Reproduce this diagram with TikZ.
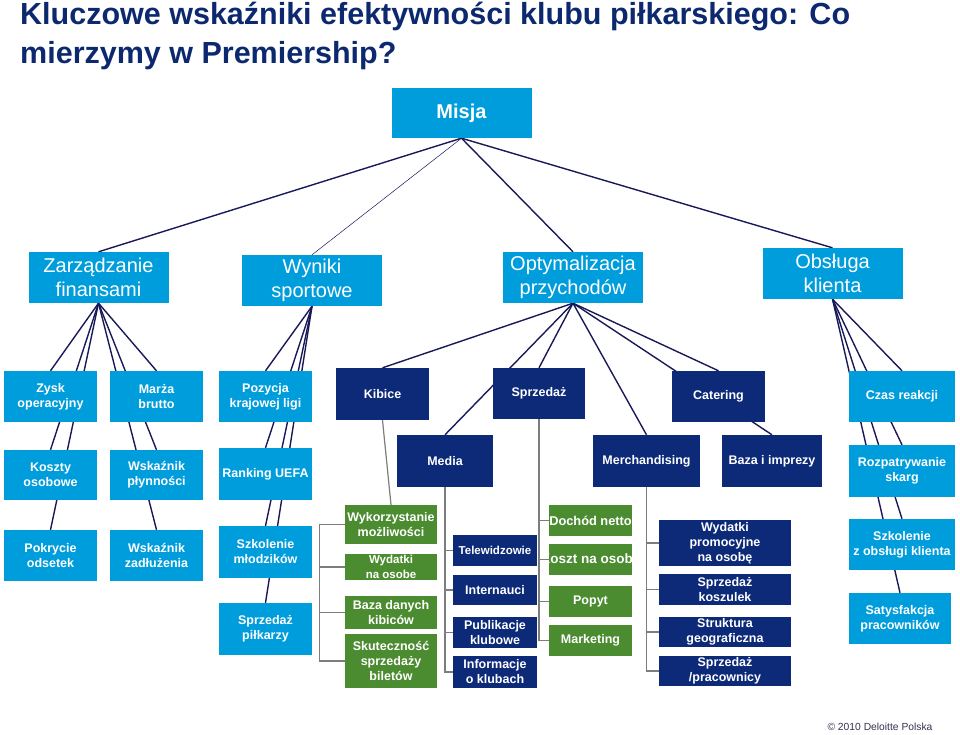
\documentclass[tikz,border=0pt]{standalone}
\usepackage{fontspec}
\setmainfont{Liberation Sans}
\usetikzlibrary{backgrounds}
\definecolor{jasny}{RGB}{0,157,220}
\definecolor{granat}{RGB}{12,42,120}
\definecolor{zielony}{RGB}{76,140,48}
\definecolor{tytul}{RGB}{12,40,110}
\definecolor{linia}{RGB}{25,25,90}
\definecolor{szary}{RGB}{125,125,125}
\definecolor{stopka}{RGB}{50,50,80}
\tikzset{
  wym/.style 2 args={minimum width=#1, minimum height=#2},
  blok/.style={inner sep=0pt, align=center, text=white, font=\bfseries\fontsize{12.5}{15}\selectfont},
  duzy/.style={blok, fill=jasny, wym={140}{51}, font=\fontsize{20}{24}\selectfont},
  jb/.style={blok, fill=jasny},
  gb/.style={blok, fill=granat},
  zb/.style={blok, fill=zielony},
  wachlarz/.style={draw=linia, line width=1.4pt},
  drzewo/.style={draw=szary, line width=1.2pt}
}
\begin{document}
\begin{tikzpicture}[x=1pt, y=-1pt]
  \useasboundingbox (0,0) rectangle (960,735);
  % tytul
  \node[anchor=base west, inner sep=0pt, text=tytul, font=\bfseries\fontsize{30.5}{40}\selectfont] (tyt1) at (20,25) {Kluczowe wskaźniki efektywności klubu piłkarskiego: Co};
  \node[anchor=base west, inner sep=0pt, text=tytul, font=\bfseries\fontsize{30.5}{40}\selectfont] (tyt2) at (20,64) {mierzymy w Premiership?};

  \node[blok, fill=jasny, wym={140}{50}, font=\bfseries\fontsize{20}{24}\selectfont] (misja) at (461.5,113) {Misja};

  % poziom 2
  \node[duzy] (zarz) at (98.5,277.5) {Zarządzanie\\finansami};
  \node[duzy] (wyniki) at (312,280.5) {Wyniki\\sportowe};
  \node[duzy] (optym) at (573,277.5) {Optymalizacja\\przychodów};
  \node[duzy] (obsl) at (832.5,273.5) {Obsługa\\klienta};

  % poziom 3
  \node[jb, wym={93}{51}] (zysk) at (50.5,396.5) {Zysk\\operacyjny};
  \node[jb, wym={93}{51}] (marza) at (156.5,396.5) {Marża\\brutto};
  \node[jb, wym={93}{51}] (pozycja) at (265.5,396.5) {Pozycja\\krajowej ligi};
  \node[gb, wym={93}{52}] (kibice) at (382.5,394) {Kibice};
  \node[gb, wym={92}{51}] (sprzedaz) at (539,393.5) {Sprzedaż};
  \node[gb, wym={93}{51}] (catering) at (718.5,396.5) {Catering};
  \node[jb, wym={106}{51}] (czas) at (902,396.5) {Czas reakcji};

  % poziom 4
  \node[jb, wym={93}{50}] (koszty) at (50.5,475) {Koszty\\osobowe};
  \node[jb, wym={93}{50}] (plyn) at (156.5,475) {Wskaźnik\\płynności};
  \node[jb, wym={93}{52}] (ranking) at (265.5,474) {Ranking UEFA};
  \node[gb, wym={96}{52}] (media) at (445,461) {Media};
  \node[gb, wym={107}{52}] (merch) at (646.5,461) {Merchandising};
  \node[gb, wym={100}{52}] (baza) at (772,461) {Baza i imprezy};
  \node[jb, wym={106}{52}] (rozp) at (902,471) {Rozpatrywanie\\skarg};

  % poziom 5
  \node[jb, wym={93}{51}] (pokrycie) at (50.5,555.5) {Pokrycie\\odsetek};
  \node[jb, wym={93}{51}] (zadl) at (156.5,555.5) {Wskaźnik\\zadłużenia};
  \node[jb, wym={93}{52}] (szkol) at (265.5,552) {Szkolenie\\młodzików};
  \node[jb, wym={93}{52}] (pilk) at (265.5,629) {Sprzedaż\\piłkarzy};
  \node[jb, wym={106}{51}] (szkobs) at (902,544.5) {Szkolenie\\z obsługi klienta};
  \node[jb, wym={102}{51}] (satys) at (900,618.5) {Satysfakcja\\pracowników};

  % kibice
  \node[zb, wym={92}{39}] (wyk) at (391,524.5) {Wykorzystanie\\możliwości};
  \node[zb, wym={92}{26}, font=\bfseries\fontsize{11.5}{15}\selectfont] (wyd) at (391,567) {Wydatki\\na osobe};
  \node[zb, wym={92}{33}] (bazad) at (391,612.5) {Baza danych\\kibiców};
  \node[zb, wym={92}{54}] (skut) at (391,661) {Skuteczność\\sprzedaży\\biletów};

  % media
  \node[gb, wym={84}{31}, font=\bfseries\fontsize{11.5}{15}\selectfont] (tele) at (495,550.5) {Telewidzowie};
  \node[gb, wym={84}{30}] (inter) at (495,590) {Internauci};
  \node[gb, wym={84}{31}] (publ) at (495,632.5) {Publikacje\\klubowe};
  \node[gb, wym={84}{32}] (info) at (495,672) {Informacje\\o klubach};

  % sprzedaz
  \node[zb, wym={83}{31}, font=\bfseries\fontsize{12.8}{15}\selectfont] (doch) at (590.5,520.5) {\makebox[0pt]{Dochód netto}};
  \node[zb, wym={83}{31}, font=\bfseries\fontsize{13.5}{15}\selectfont] (koszt) at (590.5,559.5) {\makebox[0pt]{Koszt na osobę}};
  \node[zb, wym={83}{31}] (popyt) at (590.5,601.5) {Popyt};
  \node[zb, wym={83}{31}] (market) at (590.5,640.5) {Marketing};

  % merchandising
  \node[gb, wym={132}{46}] (wydprom) at (725,543) {Wydatki\\promocyjne\\na osobę};
  \node[gb, wym={132}{31}] (koszul) at (725,589.5) {Sprzedaż\\koszulek};
  \node[gb, wym={132}{30}] (strukt) at (725,632) {Struktura\\geograficzna};
  \node[gb, wym={132}{30}] (prac) at (725,671) {Sprzedaż\\/pracownicy};

  \node[inner sep=0pt, text=stopka, font=\fontsize{10.3}{12}\selectfont] (stopka) at (880,727) {© 2010 Deloitte Polska};

  \begin{scope}[on background layer]
    \draw[wachlarz] (misja.south) -- (zarz.north);
    \draw[wachlarz, line width=0.5pt] (misja.south) -- (wyniki.north);
    \draw[wachlarz] (misja.south) -- (optym.north);
    \draw[wachlarz] (misja.south) -- (obsl.north);

    \draw[wachlarz] (zarz.south) -- (zysk.north);
    \draw[wachlarz] (zarz.south) -- (koszty.north);
    \draw[wachlarz] (zarz.south) -- (pokrycie.north);
    \draw[wachlarz] (zarz.south) -- (marza.north);
    \draw[wachlarz] (zarz.south) -- (plyn.north);
    \draw[wachlarz] (zarz.south) -- (zadl.north);

    \draw[wachlarz] (wyniki.south) -- (pozycja.north);
    \draw[wachlarz] (wyniki.south) -- (ranking.north);
    \draw[wachlarz] (wyniki.south) -- (szkol.north);
    \draw[wachlarz] (wyniki.south) -- (pilk.north);

    \draw[wachlarz] (optym.south) -- (kibice.north);
    \draw[wachlarz] (optym.south) -- (media.north);
    \draw[wachlarz] (optym.south) -- (sprzedaz.north);
    \draw[wachlarz] (optym.south) -- (merch.north);
    \draw[wachlarz] (optym.south) -- (catering.north);
    \draw[wachlarz] (optym.south) -- (baza.north);

    \draw[wachlarz] (obsl.south) -- (czas.north);
    \draw[wachlarz] (obsl.south) -- (rozp.north);
    \draw[wachlarz] (obsl.south) -- (szkobs.north);
    \draw[wachlarz] (obsl.south) -- (satys.north);
  \end{scope}

  % drzewka
  \draw[drzewo] (kibice.south) -- (wyk.north);
  \draw[drzewo] (wyk.west) -- ++(-25,0) |- (skut.west);
  \draw[drzewo] (wyd.west) -- ++(-25,0);
  \draw[drzewo] (bazad.west) -- ++(-25,0);

  \draw[drzewo] (media.south) |- (info.west);
  \draw[drzewo] (tele.west) -- (tele.west -| media.south);
  \draw[drzewo] (inter.west) -- (inter.west -| media.south);
  \draw[drzewo] (publ.west) -- (publ.west -| media.south);

  \draw[drzewo] (sprzedaz.south) |- (market.west);
  \draw[drzewo] (doch.west) -- (doch.west -| sprzedaz.south);
  \draw[drzewo] (koszt.west) -- (koszt.west -| sprzedaz.south);
  \draw[drzewo] (popyt.west) -- (popyt.west -| sprzedaz.south);

  \draw[drzewo] (merch.south) |- (prac.west);
  \draw[drzewo] (wydprom.west) -- (wydprom.west -| merch.south);
  \draw[drzewo] (koszul.west) -- (koszul.west -| merch.south);
  \draw[drzewo] (strukt.west) -- (strukt.west -| merch.south);
\end{tikzpicture}
\end{document}
